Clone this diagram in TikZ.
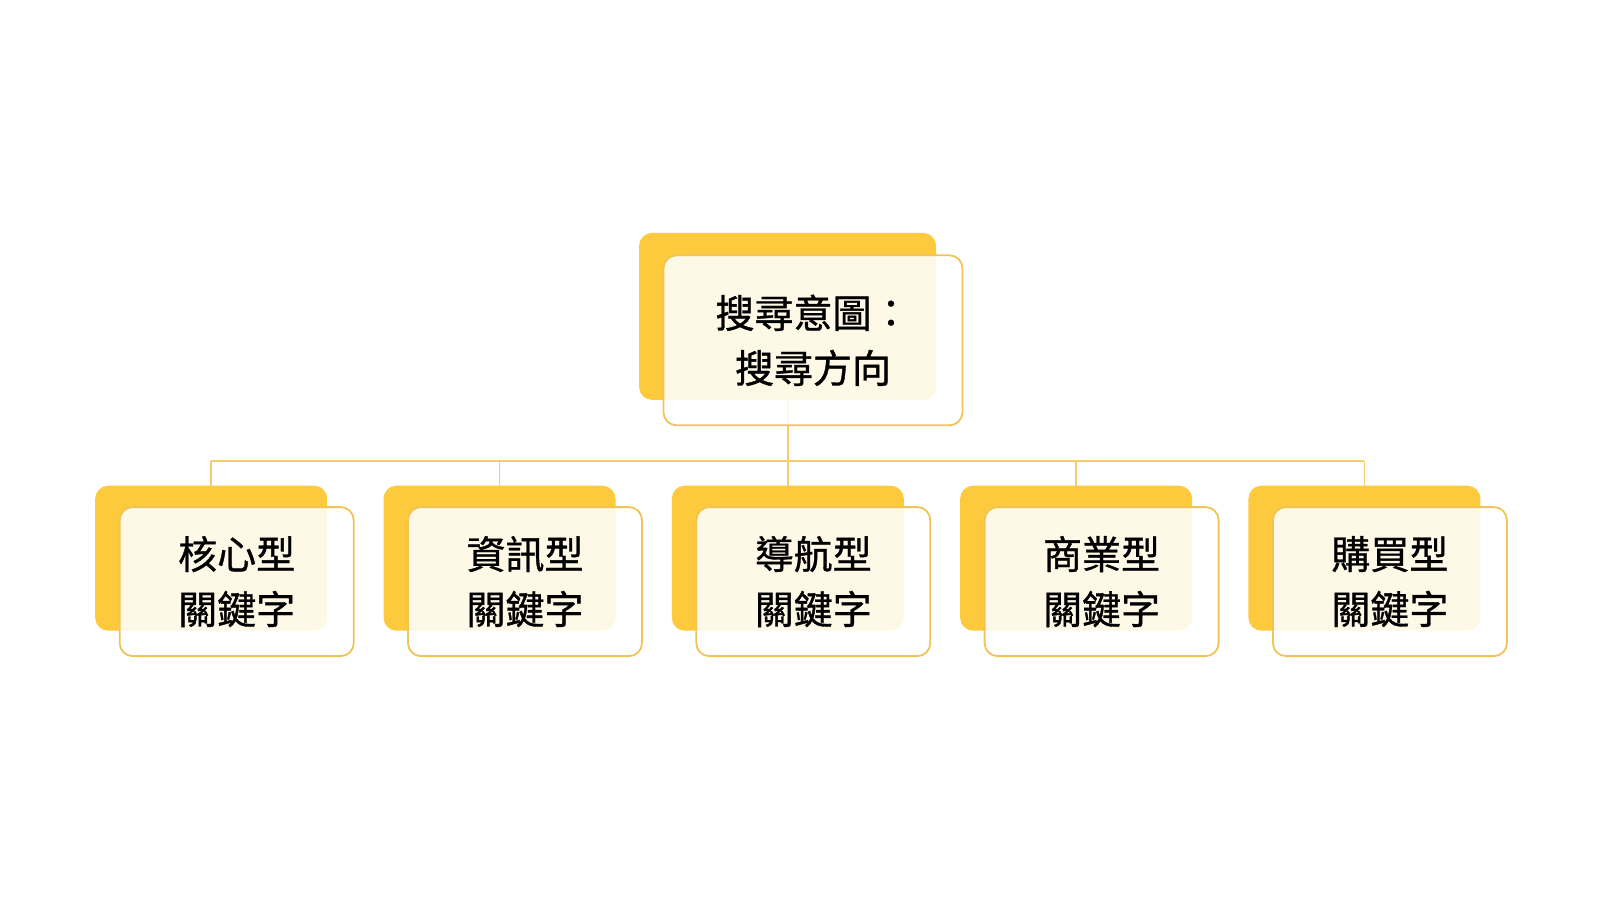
\documentclass[tikz,border=0pt]{standalone}
\usepackage{fontspec}
\newfontfamily\cjk[FakeBold=0.9]{Noto Sans CJK TC}
\definecolor{backyellow}{HTML}{FDCA3E}
\definecolor{frontline}{HTML}{F0C457}
\definecolor{connline}{HTML}{F3CD6A}
\tikzset{
  x=1pt, y=-1pt,
  backbox/.style={rectangle, rounded corners=13pt, fill=backyellow, draw=none, inner sep=0pt, outer sep=0pt},
  frontbox/.style={rectangle, rounded corners=13pt, fill=white, fill opacity=0.88, text opacity=1, draw=frontline, draw opacity=1, line width=1.8pt, inner sep=0pt, outer sep=0pt, align=center, font=\cjk\fontsize{39}{55}\selectfont},
  topback/.style={backbox, minimum width=297pt, minimum height=167pt},
  topfront/.style={frontbox, minimum width=299pt, minimum height=170pt},
  kidback/.style={backbox, minimum width=232pt, minimum height=145pt},
  kidfront/.style={frontbox, minimum width=234pt, minimum height=149pt},
  conn/.style={draw=connline, line width=1.8pt},
}
\begin{document}
\begin{tikzpicture}
\useasboundingbox (0,0) rectangle (1600,900);
\fill[white] (0,0) rectangle (1600,900);
% back boxes
\node[topback] (tb) at (787.6,316.4) {};
\foreach \i/\nm in {0/a,1/b,2/c,3/d,4/e}{
  \node[kidback] (\nm b) at (211.2+288.3*\i,558.2) {};
}
% connectors
\coordinate (bus) at (787.6,461.2);
\draw[conn] (tb.south) -- (bus);
\foreach \nm in {a,b,c,d,e}{
  \draw[conn] (\nm b.north) -- (\nm b.north |- bus);
}
\draw[conn] (ab.north |- bus) -- (eb.north |- bus);
% front boxes
\node[topfront] (tf) at (813.0,340.3) {搜尋意圖：\\搜尋方向};
\node[kidfront] (af) at (236.7,581.6) {核心型\\關鍵字};
\node[kidfront] (bf) at (525.0,581.6) {資訊型\\關鍵字};
\node[kidfront] (cf) at (813.3,581.6) {導航型\\關鍵字};
\node[kidfront] (df) at (1101.6,581.6) {商業型\\關鍵字};
\node[kidfront] (ef) at (1389.9,581.6) {購買型\\關鍵字};
\end{tikzpicture}
\end{document}
